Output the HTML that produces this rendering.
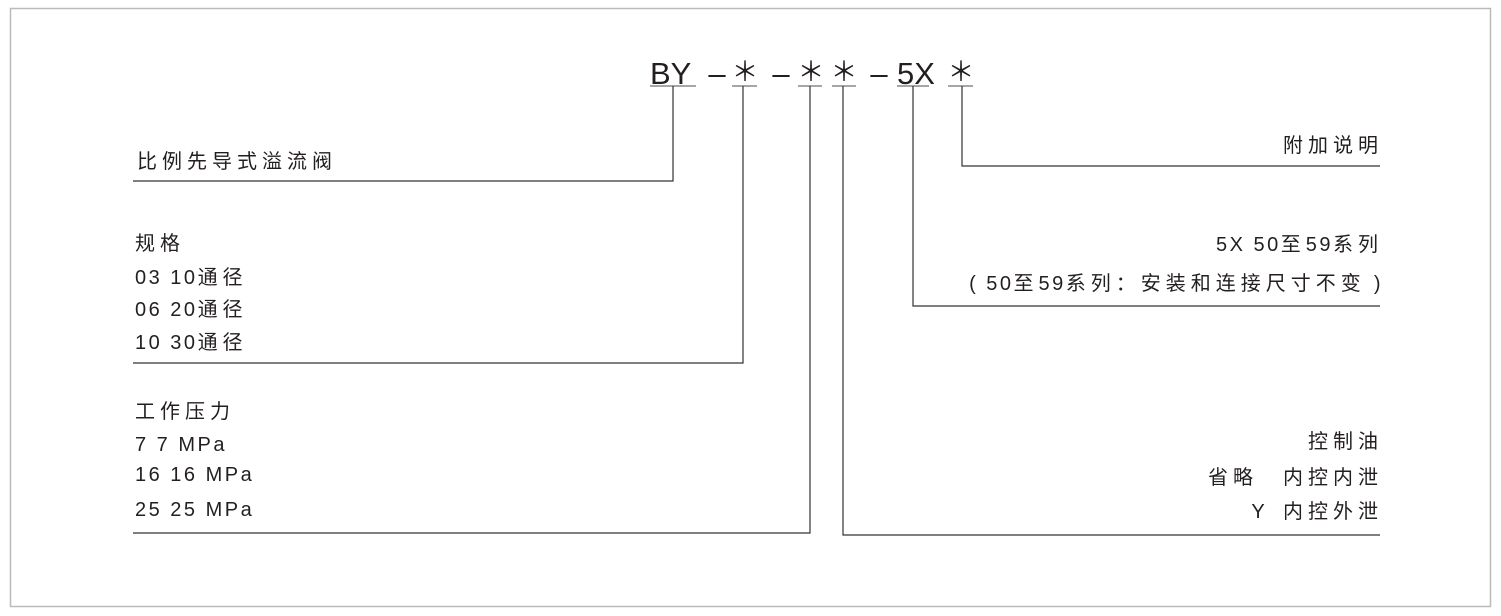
<!DOCTYPE html>
<html><head><meta charset="utf-8"><style>
html,body{margin:0;padding:0;background:#fff;}
svg{display:block;}
text{font-family:"Liberation Sans","Noto Sans CJK SC",sans-serif;fill:#231f20;font-size:20px;letter-spacing:5px;white-space:pre;}
tspan.l{letter-spacing:2.5px;}
.t{font-size:31px;letter-spacing:0;}
.s{font-family:"Noto Sans CJK SC",sans-serif;font-size:27px;letter-spacing:0;}
</style></head><body>
<svg width="1501" height="616" viewBox="0 0 1501 616" xmlns="http://www.w3.org/2000/svg" xml:space="preserve">
<rect x="10.5" y="8.5" width="1480" height="598" fill="none" stroke="#bbb" stroke-width="1.5"/>
<text class="t" x="650" y="84">BY</text>
<g text-anchor="middle">
<text class="t" x="717" y="84">–</text>
<text class="t" x="781" y="84">–</text>
<text class="t" x="879" y="84">–</text>
<text class="s" x="745" y="81">＊</text>
<text class="s" x="811" y="81">＊</text>
<text class="s" x="844" y="81">＊</text>
<text class="s" x="961" y="81">＊</text>
</g>
<text class="t" x="897" y="84">5X</text>
<g stroke="#888" stroke-width="1.5" fill="none">
<line x1="650" y1="86" x2="696" y2="86"/>
<line x1="732" y1="86" x2="757" y2="86"/>
<line x1="798" y1="86" x2="822" y2="86"/>
<line x1="832" y1="86" x2="856" y2="86"/>
<line x1="897" y1="86" x2="929" y2="86"/>
<line x1="948" y1="86" x2="973" y2="86"/>
</g>
<g stroke="#333" stroke-width="1.2" fill="none">
<polyline points="673,86 673,181 133,181"/>
<polyline points="743,86 743,363 133,363"/>
<polyline points="810,86 810,533 133,533"/>
<polyline points="843,86 843,535 1380,535"/>
<polyline points="913,86 913,306 1380,306"/>
<polyline points="962,86 962,166 1380,166"/>
</g>
<text x="137" y="168">比例先导式溢流阀</text>
<text x="135" y="250">规格</text>
<text x="135" y="284"><tspan class="l">03 10</tspan>通径</text>
<text x="135" y="316"><tspan class="l">06 20</tspan>通径</text>
<text x="135" y="349"><tspan class="l">10 30</tspan>通径</text>
<text x="135" y="418">工作压力</text>
<text x="135" y="451"><tspan class="l">7 7 MPa</tspan></text>
<text x="135" y="481"><tspan class="l">16 16 MPa</tspan></text>
<text x="135" y="516"><tspan class="l">25 25 MPa</tspan></text>
<g text-anchor="end">
<text x="1383" y="152">附加说明</text>
<text x="1383" y="251"><tspan class="l">5X 50</tspan>至<tspan class="l">59</tspan>系列</text>
<text x="1383" y="290"><tspan class="l">( 50</tspan>至<tspan class="l">59</tspan>系列：安装和连接尺寸不变<tspan class="l"> )</tspan></text>
<text x="1383" y="448">控制油</text>
<text x="1383" y="484">省略　内控内泄</text>
<text x="1383" y="518"><tspan class="l">Y  </tspan>内控外泄</text>
</g>
</svg>
</body></html>
